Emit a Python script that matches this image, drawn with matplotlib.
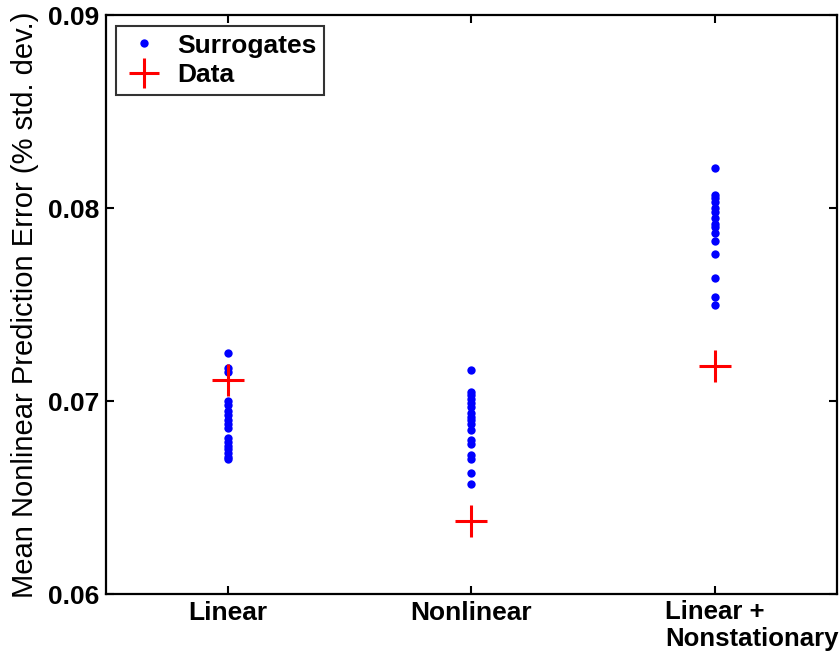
import matplotlib
matplotlib.use("Agg")
import matplotlib.pyplot as plt

categories = ["Linear", "Nonlinear", "Linear +\nNonstationary"]
yticks = [0.06, 0.07, 0.08, 0.09]

surr_linear = [0.0725, 0.0717, 0.0715, 0.0700, 0.0698, 0.0695, 0.0693, 0.0690,
               0.0688, 0.0686, 0.0681, 0.0679, 0.0677, 0.0675, 0.0673, 0.0671, 0.0670]
surr_nonlinear = [0.0716, 0.0705, 0.0703, 0.0701, 0.0699, 0.0697, 0.0694, 0.0692,
                  0.0690, 0.0688, 0.0685, 0.0680, 0.0678, 0.0672, 0.0670, 0.0663, 0.0657]
surr_linnonstat = [0.0821, 0.0807, 0.0805, 0.0803, 0.0800, 0.0798, 0.0795, 0.0792,
                   0.0790, 0.0787, 0.0783, 0.0776, 0.0764, 0.0754, 0.0750]
data_values = [0.0711, 0.0638, 0.0718]

surrogates = [surr_linear, surr_nonlinear, surr_linnonstat]

plt.rcParams['font.family'] = ['Liberation Sans', 'DejaVu Sans']

fig = plt.figure(figsize=(8.4, 6.58), dpi=100)
ax = fig.add_axes([0.126, 0.097, 0.870, 0.880])

for i, vals in enumerate(surrogates):
    ax.plot([i + 1] * len(vals), vals, linestyle='none', marker='o', color='#0000ff',
            markersize=6, markeredgewidth=0,
            label='Surrogates' if i == 0 else None)
ax.plot(range(1, len(data_values) + 1), data_values, linestyle='none', marker='+',
        color='#ff0000', markersize=23, markeredgewidth=2.2, label='Data')

ax.set_xlim(0.5, 3.5)
ax.set_ylim(0.06, 0.09)
ax.set_xticks(range(1, len(categories) + 1))
ax.set_xticklabels(categories[:-1] + [""], fontsize=19, fontweight='bold', ha='center')
ax.annotate(categories[-1], xy=(len(categories), 0), xycoords=('data', 'axes fraction'),
            xytext=(-36, -4), textcoords='offset points', ha='left', va='top',
            fontsize=18.5, fontweight='bold', multialignment='left', linespacing=1.15,
            annotation_clip=False)
ax.set_yticks(yticks)
ax.set_yticklabels([f"{t:.2f}" for t in yticks], fontsize=19, fontweight='bold')
ax.set_ylabel("Mean Nonlinear Prediction Error (% std. dev.)", fontsize=21, labelpad=6)

ax.tick_params(direction='in', length=6, width=1.5, top=True, right=True, pad=5)
for s in ax.spines.values():
    s.set_linewidth(1.6)

leg = ax.legend(loc='upper left', frameon=True, fancybox=False,
                edgecolor='black', borderpad=0.3, handletextpad=0.5,
                labelspacing=0.2, borderaxespad=0.4, handlelength=1.5,
                prop={'weight': 'bold', 'size': 19})
leg.get_frame().set_linewidth(1.5)
for h in leg.legend_handles:
    if h.get_marker() == '+':
        h.set_markersize(22)

fig.savefig("out.png", dpi=100)
